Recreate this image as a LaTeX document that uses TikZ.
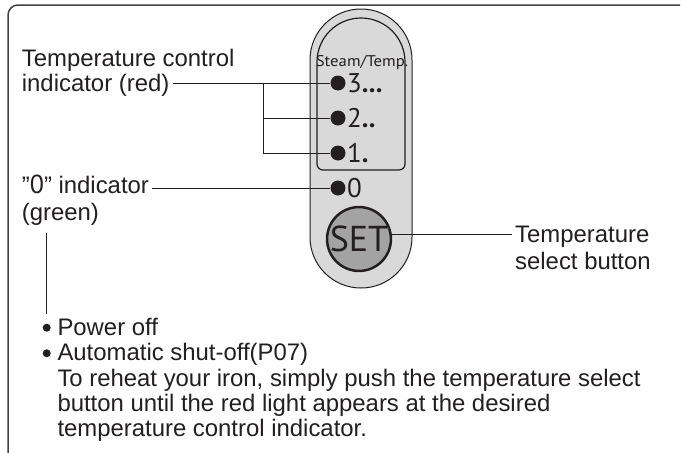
\documentclass[tikz,border=0pt]{standalone}
\usepackage{fontspec}
\setmainfont{Liberation Sans}
\newfontfamily\panelfont{PT Sans}
\definecolor{ink}{HTML}{231F20}
\definecolor{pillgray}{HTML}{D9D9D9}
\definecolor{setgray}{HTML}{A3A3A3}
\begin{document}
\begin{tikzpicture}[x=1pt,y=-1pt,
  txt/.style={inner sep=0pt, text=ink, anchor=base west, align=left,
    font=\fontsize{23.9}{25.2}\selectfont},
  lead/.style={draw=ink, line width=1pt},
  led/.style={circle, fill=ink, inner sep=0pt, minimum size=15pt},
  bul/.style={circle, fill=ink, inner sep=0pt, minimum size=8pt},
  num/.style={inner sep=0pt, text=ink, anchor=base west,
    font=\panelfont\fontsize{27}{27}\selectfont},
]
\useasboundingbox (0,0) rectangle (681,453);
\fill[white] (0,0) rectangle (681,453);
% frame
\draw[ink!85, line width=1.5pt, rounded corners=10pt] (8,453) -- (8,5) -- (680,5);
% pill
\draw[fill=pillgray, draw=ink, line width=1pt, rounded corners=50.9pt] (310,9) rectangle (412,288);
% inner panel
\draw[draw=ink, line width=1.2pt] (405,62) arc[start angle=0, end angle=-180, radius=44]
  [rounded corners=6pt] -- (317,170) -- (405,170) [sharp corners] -- cycle;
\node[inner sep=0pt, text=ink, anchor=base, font=\panelfont\fontsize{15.5}{15.5}\selectfont] (st) at (362,66) {\scalebox{1.08}[1]{Steam/Temp.}};
% indicators
\node[led] (d3) at (338,83) {};
\node[led] (d2) at (338,118) {};
\node[led] (d1) at (338,153) {};
\node[led] (d0) at (338,188) {};
\node[num] (n3) at (347,92) {3\textbf{...}};
\node[num] (n2) at (347,127) {2\textbf{..}};
\node[num] (n1) at (347,162) {1\textbf{.}};
\node[num] (n0) at (347,197) {0};
% SET button
\node[circle, draw=ink, line width=2.5pt, fill=setgray, minimum size=63pt, inner sep=0pt,
  text=ink, font=\panelfont\fontsize{36}{36}\selectfont] (setbtn) at (359,239) {SET};
% labels
\node[txt] (tc1) at (21.7,66.7) {Temperature control};
\node[txt] (tc2) at (21.7,91) {indicator (red)};
\node[txt] (zi) at (21.7,193.3) {\symbol{"22}{\panelfont\fontsize{26}{26}\selectfont 0}\symbol{"22} indicator};
\node[txt] (zg) at (21.7,220) {(green)};
\node[txt, font=\fontsize{23.9}{27}\selectfont] (tsb) at (515,269.5) {Temperature\\select button};
\node[txt] (bt) at (57.3,436.5) {Power off\\Automatic shut-off(P07)\\To reheat your iron, simply push the temperature select\\button until the red light appears at the desired\\temperature control indicator.};
\node[bul] (b1) at (46.7,327.7) {};
\node[bul] (b2) at (46.7,353.3) {};
% leaders
\coordinate (jn) at (263,83);
\draw[lead] ([xshift=3pt]tc2.east |- d3) -- (d3);
\draw[lead] (jn) |- (d1);
\draw[lead] (jn |- d2) -- (d2);
\draw[lead] ([xshift=3pt]zi.east |- d0) -- (d0);
\draw[lead] (setbtn.7) -- ([xshift=-3pt]setbtn.7 -| tsb.west);
\coordinate (gtop) at (46.7,233);
\draw[lead] (gtop) -- ([yshift=10pt]b1.north);
\end{tikzpicture}
\end{document}
